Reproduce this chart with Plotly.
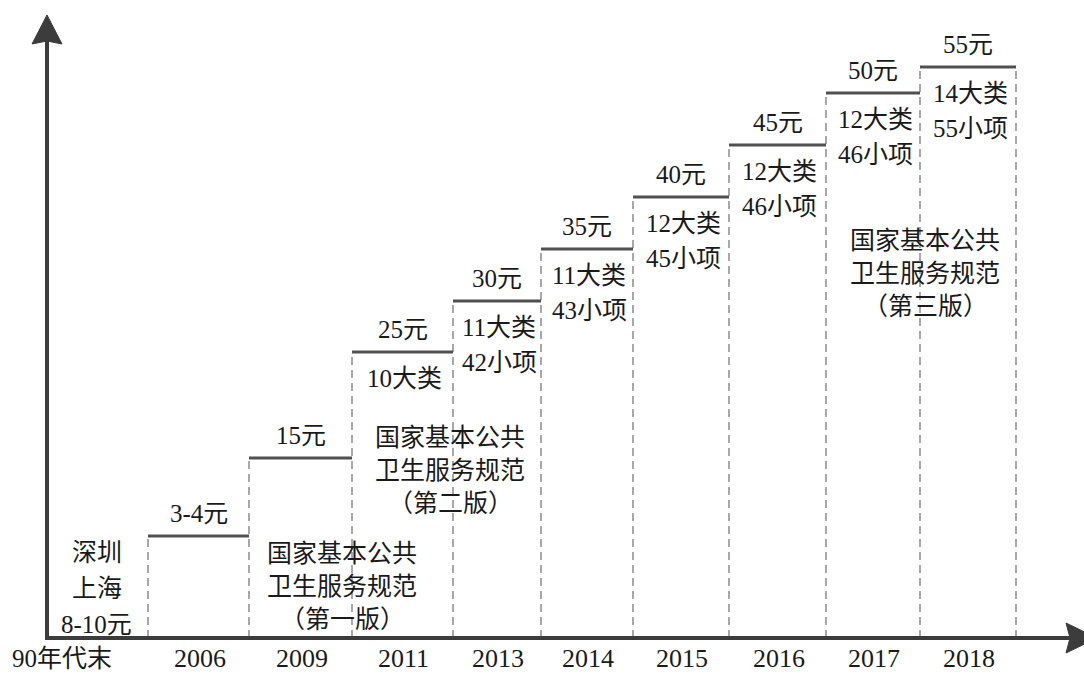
import plotly.graph_objects as go

# ---------------- data ----------------
periods = ["90年代末", "2006", "2009", "2011", "2013", "2014", "2015", "2016", "2017", "2018"]
price_labels = ["8-10元", "3-4元", "15元", "25元", "30元", "35元", "40元", "45元", "50元", "55元"]
# step heights above the time axis (chart units); first period has no step
step_heights = [None, 102, 180, 286, 337, 389, 441, 493, 545, 571]
# period boundaries along the time axis (chart units)
period_edges = [47, 148, 249, 352, 453, 541, 633, 729, 826, 920, 1016]
# service package per period
category_labels = [None, None, None, "10大类", "11大类", "11大类", "12大类", "12大类", "12大类", "14大类"]
item_labels = [None, None, None, None, "42小项", "43小项", "45小项", "46小项", "46小项", "55小项"]
first_period_lines = ["深圳", "上海", "8-10元"]
edition_titles = ["（第一版）", "（第二版）", "（第三版）"]
edition_body = ["国家基本公共", "卫生服务规范"]

FONT = "Liberation Serif, Times New Roman, Noto Sans CJK SC, serif"
FS = 25
TXT = "#1a1a1a"
AX = "#3c3c3c"

fig = go.Figure()

# dashed verticals at each step's left edge and the final right edge
for i in range(1, len(periods)):
    x0 = period_edges[i]
    fig.add_trace(go.Scatter(x=[x0, x0], y=[0, step_heights[i]], mode="lines",
                             line=dict(color="#7a7a7a", width=1.3, dash="8px,5px"),
                             hoverinfo="skip", showlegend=False))
fig.add_trace(go.Scatter(x=[period_edges[-1], period_edges[-1]], y=[0, step_heights[-1]], mode="lines",
                         line=dict(color="#7a7a7a", width=1.3, dash="8px,5px"),
                         hoverinfo="skip", showlegend=False))

# horizontal step segments
for i in range(1, len(periods)):
    fig.add_trace(go.Scatter(x=[period_edges[i], period_edges[i + 1]],
                             y=[step_heights[i], step_heights[i]], mode="lines",
                             line=dict(color="#505050", width=3.2),
                             hoverinfo="skip", showlegend=False))

ann = []


def txt(x, y, s, size=FS):
    ann.append(dict(x=x, y=y, xref="x", yref="y", text=s, showarrow=False,
                    xanchor="center", yanchor="middle",
                    font=dict(family=FONT, size=size, color=TXT)))


AXIS_Y = 638  # pixel row of the time axis, chart unit 0
LABEL_Y = -20

# price labels above steps, and period labels below axis
for i in range(1, len(periods)):
    cx = (period_edges[i] + period_edges[i + 1]) / 2
    txt(cx, step_heights[i] + 23, price_labels[i])
    txt(cx + 1, LABEL_Y, periods[i], size=26)
    if category_labels[i]:
        txt(cx + 2, step_heights[i] - 26, category_labels[i])
    if item_labels[i]:
        txt(cx + 2, step_heights[i] - 61, item_labels[i])

# first period
txt(62, LABEL_Y, periods[0])
cx0 = (period_edges[0] + period_edges[1]) / 2 - 1
for k, s in enumerate(first_period_lines):
    txt(cx0, AXIS_Y - (552 + 36 * k), s)

# spec edition blocks
edition_pos = [(342, 553), (450, 437), (925, 240)]
for (ex, ey), title in zip(edition_pos, edition_titles):
    for k, s in enumerate(edition_body + [title]):
        txt(ex, AXIS_Y - (ey + 33 * k), s)

# axes with arrows
shapes = [
    dict(type="line", xref="x", yref="y", x0=47, x1=47, y0=-2, y1=600,
         line=dict(color=AX, width=4)),
    dict(type="line", xref="x", yref="y", x0=45, x1=1072, y0=0, y1=0,
         line=dict(color=AX, width=4)),
    dict(type="path", xref="x", yref="y",
         path="M47,623 L62,594 L47,597 L32,594 Z", fillcolor=AX, line=dict(color=AX, width=1)),
    dict(type="path", xref="x", yref="y",
         path="M1097,0 L1066,15 L1070,0 L1066,-15 Z", fillcolor=AX, line=dict(color=AX, width=1)),
]

fig.update_layout(
    width=1084, height=676, margin=dict(l=0, r=0, t=0, b=0),
    paper_bgcolor="white", plot_bgcolor="white",
    xaxis=dict(range=[0, 1084], visible=False, fixedrange=True),
    yaxis=dict(range=[-38, 638], visible=False, fixedrange=True),
    annotations=ann, shapes=shapes, showlegend=False,
)

fig.write_html("out.html", config={"displayModeBar": False})
